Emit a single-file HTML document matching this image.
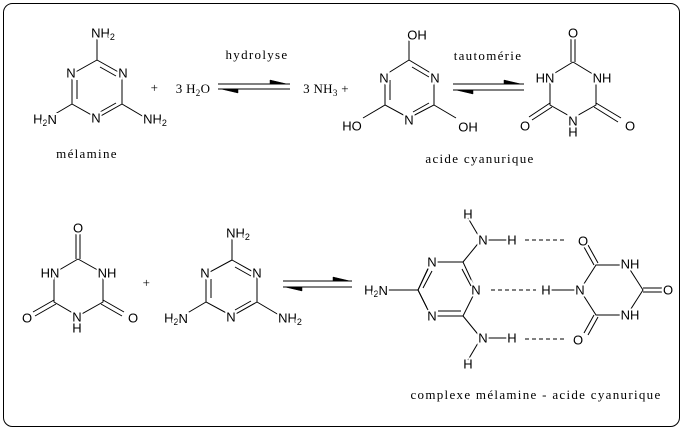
<!DOCTYPE html>
<html><head><meta charset="utf-8"><style>
html,body{margin:0;padding:0;background:#fff}
svg{display:block}
.a{font-family:"Liberation Sans",sans-serif;font-size:13px;fill:#000;stroke:#fff;stroke-width:4px;paint-order:stroke;text-anchor:middle;dominant-baseline:central}
.s{font-size:9px}
.t{font-family:"Liberation Serif",serif;font-size:13px;fill:#000;text-anchor:middle;letter-spacing:1.3px}
.e{letter-spacing:0.3px}
line,polyline{stroke:#000;stroke-width:1;fill:none}
.h{fill:#000;stroke:#000;stroke-width:0.5}
.d{stroke-dasharray:4,3}
</style></head><body>
<svg width="683" height="431" viewBox="0 0 683 431" xmlns="http://www.w3.org/2000/svg">
<rect x="3.5" y="3.5" width="676" height="423" rx="9" fill="none" stroke="#000"/>

<!-- Melamine 1 -->
<g>
<polyline points="97,60 122,74 122,104 97,118 72,104 72,74 97,60"/>
<line x1="100" y1="67" x2="116" y2="76"/>
<line x1="116" y1="103" x2="100" y2="112"/>
<line x1="77" y1="99" x2="77" y2="80"/>
<line x1="97" y1="60" x2="97" y2="38"/>
<line x1="72" y1="104" x2="50" y2="117"/>
<line x1="122" y1="104" x2="144" y2="117"/>
<text class="a" x="71" y="73">N</text>
<text class="a" x="123" y="73">N</text>
<text class="a" x="96" y="118">N</text>
<text class="a" x="103" y="33">NH<tspan class="s" dy="4">2</tspan></text>
<text class="a" x="45" y="119">H<tspan class="s" dy="4">2</tspan><tspan dy="-4">N</tspan></text>
<text class="a" x="155" y="119">NH<tspan class="s" dy="4">2</tspan></text>
</g>
<text class="t" x="87" y="158">mélamine</text>
<text class="t" x="155" y="92">+</text>
<text class="t e" x="193" y="93">3 H<tspan font-size="9" dy="3">2</tspan><tspan dy="-3">O</tspan></text>
<text class="t" x="257" y="59">hydrolyse</text>
<line x1="218" y1="84" x2="290" y2="84"/>
<path class="h" d="M270,80 L287,84 L270,84 Z"/>
<line x1="218" y1="89" x2="290" y2="89"/>
<path class="h" d="M221,89 L238,93 L238,89 Z"/>
<text class="t e" x="326" y="93">3 NH<tspan font-size="9" dy="3">3</tspan><tspan dy="-3"> +</tspan></text>

<!-- Cyanuric OH form -->
<g>
<polyline points="409,60 434,75 434,105 409,118 385,105 385,75 409,60"/>
<line x1="412" y1="67" x2="429" y2="77"/>
<line x1="429" y1="103" x2="413" y2="112"/>
<line x1="390" y1="100" x2="390" y2="80"/>
<line x1="409" y1="60" x2="409" y2="40"/>
<line x1="385" y1="105" x2="363" y2="118"/>
<line x1="434" y1="105" x2="456" y2="118"/>
<text class="a" x="384" y="78">N</text>
<text class="a" x="435" y="78">N</text>
<text class="a" x="409" y="120">N</text>
<text class="a" x="417" y="35">OH</text>
<text class="a" x="352" y="126">HO</text>
<text class="a" x="468" y="127">OH</text>
</g>
<text class="t" x="488" y="60">tautomérie</text>
<line x1="453" y1="84" x2="524" y2="84"/>
<path class="h" d="M504,80 L521,84 L504,84 Z"/>
<line x1="453" y1="90" x2="524" y2="90"/>
<path class="h" d="M456,90 L473,94 L473,90 Z"/>

<!-- Cyanuric keto 1 -->
<g>
<polyline points="573,62 596,76 596,105 573,118 550,105 550,76 573,62"/>
<line x1="571" y1="62" x2="571" y2="38"/><line x1="575" y1="62" x2="575" y2="38"/>
<line x1="550" y1="103" x2="529" y2="117"/><line x1="552" y1="107" x2="532" y2="120"/>
<line x1="596" y1="103" x2="621" y2="118"/><line x1="594" y1="107" x2="618" y2="122"/>
<text class="a" x="573" y="33">O</text>
<text class="a" x="545" y="78">HN</text>
<text class="a" x="602" y="78">NH</text>
<text class="a" x="573" y="121">N</text>
<text class="a" x="573" y="132">H</text>
<text class="a" x="525" y="126">O</text>
<text class="a" x="630" y="126">O</text>
</g>
<text class="t" x="480" y="163">acide cyanurique</text>

<!-- Bottom-left keto -->
<g>
<polyline points="78,259 103,273 103,302 78,316 54,302 54,273 78,259"/>
<line x1="76" y1="259" x2="76" y2="234"/><line x1="80" y1="259" x2="80" y2="234"/>
<line x1="54" y1="300" x2="33" y2="312"/><line x1="56" y1="304" x2="35" y2="316"/>
<line x1="103" y1="300" x2="124" y2="312"/><line x1="101" y1="304" x2="122" y2="316"/>
<text class="a" x="78" y="228">O</text>
<text class="a" x="50" y="273">HN</text>
<text class="a" x="107" y="273">NH</text>
<text class="a" x="77" y="317">N</text>
<text class="a" x="77" y="328">H</text>
<text class="a" x="27" y="318">O</text>
<text class="a" x="133" y="318">O</text>
</g>
<text class="t" x="147" y="287">+</text>

<!-- Melamine 2 -->
<g>
<polyline points="232,260 257,274 257,302 232,316 206,302 206,274 232,260"/>
<line x1="235" y1="267" x2="251" y2="276"/>
<line x1="251" y1="301" x2="235" y2="310"/>
<line x1="211" y1="298" x2="211" y2="279"/>
<line x1="232" y1="260" x2="232" y2="238"/>
<line x1="206" y1="302" x2="184" y2="315"/>
<line x1="257" y1="302" x2="279" y2="315"/>
<text class="a" x="205" y="273">N</text>
<text class="a" x="257" y="273">N</text>
<text class="a" x="231" y="317">N</text>
<text class="a" x="238" y="233">NH<tspan class="s" dy="4">2</tspan></text>
<text class="a" x="176" y="318">H<tspan class="s" dy="4">2</tspan><tspan dy="-4">N</tspan></text>
<text class="a" x="290" y="318">NH<tspan class="s" dy="4">2</tspan></text>
</g>
<line x1="283" y1="281" x2="352" y2="281"/>
<path class="h" d="M333,277 L350,281 L333,281 Z"/>
<line x1="283" y1="287" x2="352" y2="287"/>
<path class="h" d="M285,287 L302,291 L302,287 Z"/>

<!-- Complex melamine -->
<g>
<polyline points="431,262 463,262 476,290 463,316 431,316 418,290 431,262"/>
<line x1="418" y1="290" x2="386" y2="290"/>
<line x1="463" y1="262" x2="481" y2="240"/>
<line x1="463" y1="316" x2="481" y2="338"/>
<line x1="481" y1="240" x2="468" y2="218"/>
<line x1="481" y1="338" x2="468" y2="360"/>
<line x1="483" y1="240" x2="510" y2="240"/>
<line x1="483" y1="338" x2="510" y2="338"/>
<text class="a" x="432" y="262">N</text>
<text class="a" x="476" y="290">N</text>
<text class="a" x="432" y="316">N</text>
<line x1="428" y1="269" x2="418" y2="290"/>
<line x1="432" y1="271" x2="423" y2="288"/>
<line x1="418" y1="290" x2="428" y2="310"/>
<line x1="462" y1="269" x2="471" y2="286"/>
<line x1="438" y1="311" x2="461" y2="311"/>
<text class="a" x="376" y="290">H<tspan class="s" dy="4">2</tspan><tspan dy="-4">N</tspan></text>
<text class="a" x="483" y="240">N</text>
<text class="a" x="483" y="338">N</text>
<text class="a" x="468" y="214">H</text>
<text class="a" x="468" y="364">H</text>
<text class="a" x="512" y="240">H</text>
<text class="a" x="512" y="338">H</text>
<line class="d" x1="525" y1="240" x2="565" y2="240"/>
<line class="d" x1="525" y1="339" x2="567" y2="339"/>
<line class="d" x1="491" y1="290" x2="536" y2="290"/>
<line x1="550" y1="290" x2="580" y2="290"/>
<text class="a" x="546" y="290">H</text>
</g>
<!-- Complex cyanuric -->
<g>
<polyline points="580,290 596,265 627,265 643,290 627,315 596,315 580,290"/>
<line x1="594" y1="265" x2="584" y2="247"/><line x1="598" y1="263" x2="588" y2="245"/>
<line x1="594" y1="315" x2="584" y2="333"/><line x1="598" y1="317" x2="588" y2="335"/>
<line x1="643" y1="288" x2="662" y2="288"/><line x1="643" y1="292" x2="662" y2="292"/>
<text class="a" x="580" y="290">N</text>
<text class="a" x="630" y="264">NH</text>
<text class="a" x="630" y="315">NH</text>
<text class="a" x="583" y="241">O</text>
<text class="a" x="578" y="340">O</text>
<text class="a" x="668" y="290">O</text>
</g>
<text class="t" x="536" y="399">complexe mélamine - acide cyanurique</text>
</svg>
</body></html>
